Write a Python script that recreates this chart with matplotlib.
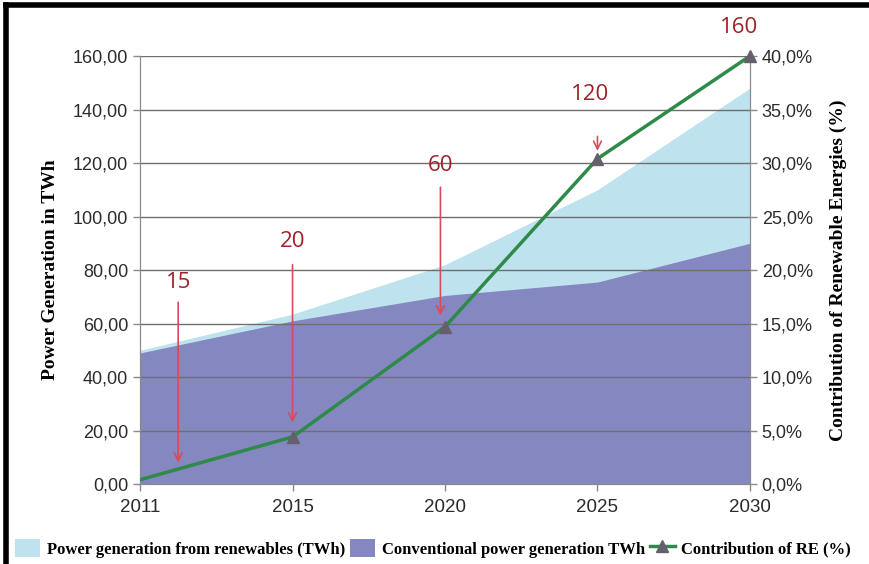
"""
Power generation outlook 2011-2030: conventional vs renewable output (TWh)
with the renewable share (%) on a secondary axis.
"""

import matplotlib

matplotlib.use("Agg")

import matplotlib.pyplot as plt
import numpy as np
from matplotlib.lines import Line2D
from matplotlib.patches import Patch
from matplotlib.ticker import FuncFormatter, MultipleLocator

YEARS = ["2011", "2015", "2020", "2025", "2030"]
CONVENTIONAL_TWH = [49.0, 61.0, 70.5, 75.5, 90.0]
RENEWABLES_TWH = [1.0, 2.5, 11.5, 34.5, 58.0]
RE_SHARE_PCT = [0.4, 4.4, 14.7, 30.4, 40.0]

# Callout numbers (shown in red)
CALLOUT_LABELS = ["15", "20", "60", "120", "160"]

RC_PARAMS = {
    "font.family": ["Liberation Sans", "DejaVu Sans"],
    "font.size": 13,
    "axes.edgecolor": "#8a8a8a",
    "xtick.color": "#8a8a8a",
    "ytick.color": "#8a8a8a",
    "xtick.labelcolor": "#2b2b2b",
    "ytick.labelcolor": "#2b2b2b",
}

LIGHT_BLUE = "#bfe3ee"
PURPLE = "#8587c1"
GREEN = "#2e8a48"
MARKER_GREY = "#66606c"
ARROW_RED = "#d84a5e"
TEXT_RED = "#9e2228"
SERIF_BOLD = dict(family=["Liberation Serif", "DejaVu Serif"], weight="bold")


def comma_fmt(decimals, suffix=""):
    def _f(v, _pos):
        return f"{v:.{decimals}f}".replace(".", ",") + suffix
    return FuncFormatter(_f)


def main():
    x = np.arange(len(YEARS))
    conv = np.array(CONVENTIONAL_TWH)
    total = conv + np.array(RENEWABLES_TWH)

    with plt.rc_context(RC_PARAMS):
        fig = plt.figure(figsize=(8.7, 5.64), dpi=100)
        ax = fig.add_axes([0.161, 0.1418, 0.701, 0.7589])

        ax.fill_between(x, 0, total, color=LIGHT_BLUE, lw=0, zorder=1)
        ax.fill_between(x, 0, conv, color=PURPLE, lw=0, zorder=2)
        for v in np.arange(20, 161, 20):
            ax.axhline(v, color="#6e6e6e", lw=1.0, zorder=3)

        ax.set_xlim(0, len(YEARS) - 1)
        ax.set_ylim(0, 160)
        ax.set_xticks(x)
        ax.set_xticklabels(YEARS, fontsize=13.5)
        ax.yaxis.set_major_locator(MultipleLocator(20))
        ax.yaxis.set_major_formatter(comma_fmt(2))
        ax.tick_params(axis="both", direction="out", length=5, width=1)
        ax.tick_params(axis="x", pad=6)
        ax.spines["top"].set_visible(False)
        ax.set_ylabel("Power Generation in TWh", fontsize=14, labelpad=10, **SERIF_BOLD)

        ax2 = ax.twinx()
        ax2.set_ylim(0, 40)
        ax2.yaxis.set_major_locator(MultipleLocator(5))
        ax2.yaxis.set_major_formatter(comma_fmt(1, "%"))
        ax2.tick_params(axis="y", direction="out", length=5, width=1)
        ax2.spines["top"].set_visible(False)
        ax2.plot(x, RE_SHARE_PCT, color=GREEN, lw=2.5, zorder=5)
        ax2.plot(x, RE_SHARE_PCT, ls="none", marker="^", ms=9, markevery=[1, 2, 3, 4],
                 color=MARKER_GREY, zorder=6, clip_on=False)
        ax2.set_ylabel("Contribution of Renewable Energies (%)", fontsize=14,
                       labelpad=12, **SERIF_BOLD)

        # red callouts: (label x, label y, arrow x, arrow start y, arrow end y)
        callouts = [
            (0.25, 75.5, 0.25, 69.0, 7.0),
            (1.0, 90.5, 1.0, 83.0, 22.0),
            (1.97, 119.0, 1.97, 112.0, 62.0),
            (2.95, 145.5, 3.0, 131.0, 123.5),
            (3.93, 170.5, None, None, None),
        ]
        for label, (tx, ty, axx, y0, y1) in zip(CALLOUT_LABELS, callouts):
            ax.text(tx, ty, label, color=TEXT_RED, fontsize=16, ha="center",
                    va="center", family=["Open Sans", "DejaVu Sans"],
                    clip_on=False, zorder=7)
            if axx is not None:
                ax.annotate("", xy=(axx, y1), xytext=(axx, y0),
                            arrowprops=dict(arrowstyle="->", color=ARROW_RED,
                                            lw=1.2, mutation_scale=14),
                            zorder=7)

        handles = [
            Patch(facecolor=LIGHT_BLUE, edgecolor="none"),
            Patch(facecolor=PURPLE, edgecolor="none"),
            Line2D([], [], color=GREEN, lw=2.5, marker="^", ms=8,
                   markerfacecolor=MARKER_GREY, markeredgecolor=MARKER_GREY),
        ]
        labels = [
            "Power generation from renewables (TWh)",
            "Conventional power generation TWh",
            "Contribution of RE (%)",
        ]
        fig.legend(handles, labels, loc="center left", bbox_to_anchor=(0.0, 0.028),
                   ncol=3, frameon=False, handlelength=1.5, handleheight=1.3,
                   handletextpad=0.4, columnspacing=0.3,
                   prop=dict(size=12, **SERIF_BOLD))

        # heavy black frame along top and left edge
        fig.add_artist(Line2D([0.007, 1.0], [0.992, 0.992], color="black", lw=4,
                              transform=fig.transFigure))
        fig.add_artist(Line2D([0.007, 0.007], [0.0, 0.992], color="black", lw=4,
                              transform=fig.transFigure))

        fig.savefig("out.png", dpi=100)


if __name__ == "__main__":
    main()
